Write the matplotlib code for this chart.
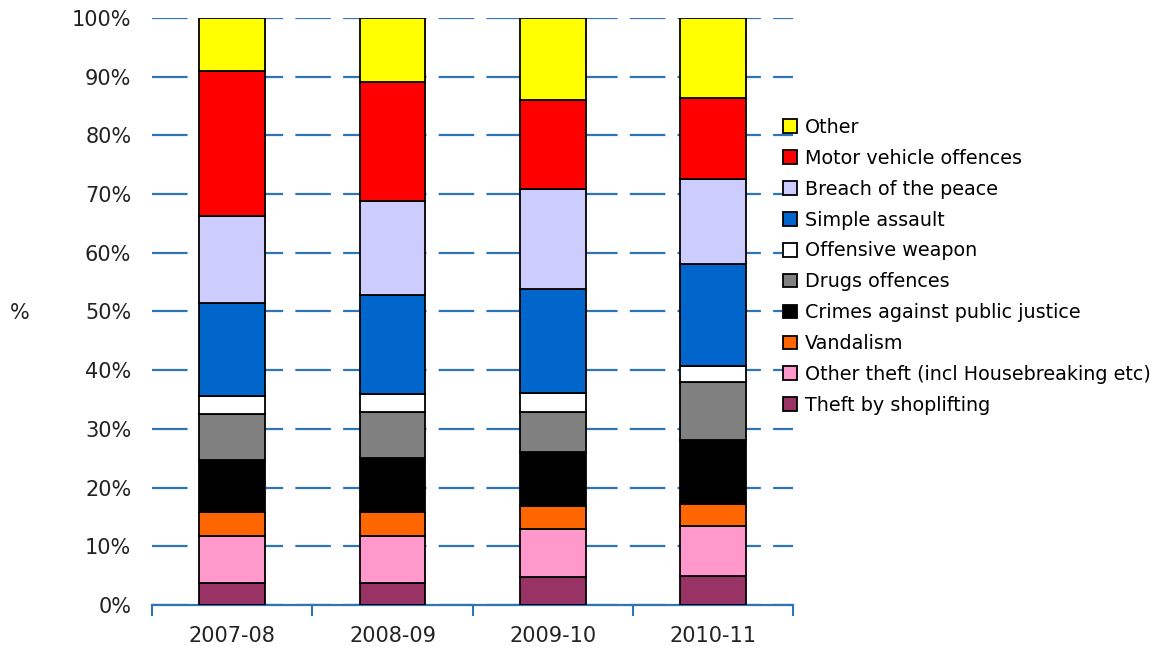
import matplotlib
matplotlib.use("Agg")
import matplotlib.pyplot as plt
import numpy as np

# data (percent of each year)
years = ["2007-08", "2008-09", "2009-10", "2010-11"]
shoplifting = [3.8, 3.8, 4.8, 4.9]
other_theft = [8.0, 8.0, 8.1, 8.6]
vandalism = [4.0, 4.0, 3.9, 3.7]
public_justice = [8.9, 9.3, 9.3, 10.9]
drugs = [7.9, 7.8, 6.8, 9.9]
weapon = [3.0, 3.1, 3.2, 2.7]
assault = [15.8, 16.8, 17.7, 17.4]
breach = [14.8, 16.0, 17.1, 14.5]
motor = [24.8, 20.2, 15.1, 13.8]
other = [9.0, 11.0, 14.0, 13.6]

series = [
    ("Theft by shoplifting", shoplifting, "#993366"),
    ("Other theft (incl Housebreaking etc)", other_theft, "#FF99CC"),
    ("Vandalism", vandalism, "#FF6600"),
    ("Crimes against public justice", public_justice, "#000000"),
    ("Drugs offences", drugs, "#808080"),
    ("Offensive weapon", weapon, "#FFFFFF"),
    ("Simple assault", assault, "#0066CC"),
    ("Breach of the peace", breach, "#CCCCFF"),
    ("Motor vehicle offences", motor, "#FF0000"),
    ("Other", other, "#FFFF00"),
]

blue = "#2F75B5"

fig = plt.figure(figsize=(11.7, 6.56), dpi=100)
ax = fig.add_axes([0.13, 0.0777, 0.548, 0.895])

x = np.arange(len(years))
bottom = np.zeros(len(years))
handles = []
for name, vals, col in series:
    b = ax.bar(x, vals, width=0.41, bottom=bottom, color=col,
               edgecolor="black", linewidth=1.3, label=name, zorder=3)
    handles.append(b)
    bottom += np.array(vals)

ax.set_xlim(-0.5, 3.5)
ax.set_ylim(0, 100)
ax.set_yticks(np.arange(0, 101, 10))
ax.set_yticklabels([f"{v}%" for v in range(0, 101, 10)], fontsize=15, color="#222222")
ax.yaxis.grid(True, color=blue, linewidth=1.6, linestyle=(0, (16, 5.5)), zorder=0)
ax.set_axisbelow(True)
ax.tick_params(axis="y", length=0, pad=15)

ax.set_xticks(x)
ax.set_xticklabels(years, fontsize=15, color="#222222")
ax.set_xticks(np.arange(-0.5, 3.6, 1), minor=True)
ax.tick_params(axis="x", which="major", length=0, pad=15)
ax.tick_params(axis="x", which="minor", length=8, width=1.5, color=blue, direction="out")

for s in ["left", "right", "top"]:
    ax.spines[s].set_visible(False)
ax.spines["bottom"].set_color(blue)
ax.spines["bottom"].set_linewidth(1.6)

fig.text(20 / 1170, 1 - 313 / 656, "%", fontsize=15, ha="center", va="center", color="#222222")

leg = fig.legend(handles[::-1], [s[0] for s in series][::-1],
                 loc="upper left", bbox_to_anchor=(0.663, 0.832),
                 frameon=False, fontsize=13.8, handlelength=0.72, handleheight=0.72,
                 handletextpad=0.4, labelspacing=0.62, borderaxespad=0)

fig.savefig("out.png", dpi=100)
